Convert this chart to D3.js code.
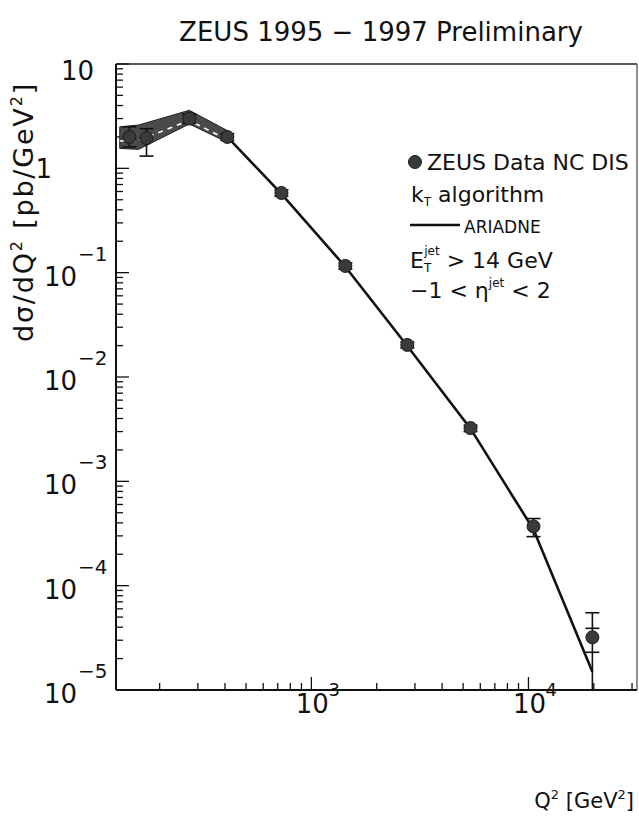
<!DOCTYPE html>
<html>
<head>
<meta charset="utf-8">
<script src="https://cdn.jsdelivr.net/npm/d3@7"></script>
<style>
  body { margin: 0; background: #fff; }
  text { font-family: "DejaVu Sans", sans-serif; fill: #111; }
</style>
</head>
<body>
<svg id="chart" width="639" height="821"></svg>
<script>
// Q^2 bin centres [GeV^2] and measured dσ/dQ^2 [pb/GeV^2]
const q2        = [145, 174, 274, 410, 728, 1434, 2767, 5410, 10550, 19700];
const sigma     = [2.0, 1.95, 3.0, 2.0, 0.58, 0.116, 0.0203, 0.00324, 3.7e-4, 3.2e-5];
const errLow    = [1.6, 1.31, 2.7, 1.85, 0.54, 0.108, 0.019, 0.0030, 2.95e-4, 4e-6];
const errHigh   = [2.5, 2.4, 3.3, 2.15, 0.62, 0.124, 0.0216, 0.00345, 4.4e-4, 5.5e-5];
const statLow   = [null, null, null, null, null, null, null, null, null, 2.3e-5];
const statHigh  = [null, null, null, null, null, null, null, null, null, 3.9e-5];

// ARIADNE prediction at the same Q^2 values
const ariadne   = [1.9, 1.95, 3.1, 2.0, 0.57, 0.114, 0.0198, 0.0032, 3.45e-4, 1.5e-5];

// energy-scale uncertainty band at low Q^2
const bandQ2    = [131, 160, 274, 410];
const bandLow   = [1.55, 1.52, 2.66, 1.78];
const bandHigh  = [2.5, 2.6, 3.6, 2.3];

// axis decades
const yTickExp  = [1, 0, -1, -2, -3, -4, -5];
const xTickExp  = [3, 4];

const svg = d3.select("#chart");

const x = d3.scaleLog().domain([Math.pow(10, 2.1), Math.pow(10, 4.5)]).range([116, 637]);
const y = d3.scaleLog().domain([1e-5, 10]).range([690, 64]);

// title
svg.append("text")
  .attr("x", 381).attr("y", 41)
  .attr("text-anchor", "middle")
  .attr("font-size", 26)
  .text("ZEUS 1995 \u2212 1997 Preliminary");

// frame
const x0 = x.range()[0], x1 = x.range()[1], y0 = y.range()[0], y1 = y.range()[1];
svg.append("line").attr("x1", x0).attr("x2", x0).attr("y1", y1).attr("y2", y0)
  .attr("stroke", "#111").attr("stroke-width", 2);
svg.append("line").attr("x1", x0).attr("x2", x1).attr("y1", y0).attr("y2", y0)
  .attr("stroke", "#111").attr("stroke-width", 2);
svg.append("line").attr("x1", x0).attr("x2", x1).attr("y1", y1).attr("y2", y1)
  .attr("stroke", "#222").attr("stroke-width", 1.3);
svg.append("line").attr("x1", x1).attr("x2", x1).attr("y1", y1).attr("y2", y0)
  .attr("stroke", "#444").attr("stroke-width", 1.2);

// y ticks (inside, major + minor)
const yTicks = [];
for (let e = -5; e <= 0; e++) {
  for (let m = 1; m <= 9; m++) yTicks.push({ v: m * Math.pow(10, e), major: m === 1 });
}
yTicks.push({ v: 10, major: true });
svg.append("g").selectAll("line").data(yTicks).join("line")
  .attr("x1", x0).attr("x2", d => x0 + (d.major ? 13 : 7))
  .attr("y1", d => y(d.v)).attr("y2", d => y(d.v))
  .attr("stroke", "#111").attr("stroke-width", 1.3);

// x ticks (inside)
const xTicks = [];
for (let e = 2; e <= 4; e++) {
  for (let m = 1; m <= 9; m++) {
    const v = m * Math.pow(10, e);
    if (v >= x.domain()[0] && v <= x.domain()[1]) xTicks.push({ v, major: m === 1 });
  }
}
svg.append("g").selectAll("line").data(xTicks).join("line")
  .attr("x1", d => x(d.v)).attr("x2", d => x(d.v))
  .attr("y1", y0).attr("y2", d => y0 - (d.major ? 13 : 7))
  .attr("stroke", "#111").attr("stroke-width", 1.3);

// y tick labels
const yLab = svg.append("g");
yTickExp.forEach(e => {
  const ty = y(Math.pow(10, e));
  if (e === 1) {
    yLab.append("text").attr("x", 94).attr("y", ty + 16).attr("text-anchor", "end")
      .attr("font-size", 26).text("10");
  } else if (e === 0) {
    yLab.append("text").attr("x", 52).attr("y", ty + 10).attr("text-anchor", "end")
      .attr("font-size", 26).text("1");
  } else {
    yLab.append("text").attr("x", 77).attr("y", ty + 13).attr("text-anchor", "end")
      .attr("font-size", 26).text("10");
    yLab.append("text").attr("x", 78).attr("y", ty - 12).attr("text-anchor", "start")
      .attr("font-size", 20).text("\u2212" + Math.abs(e));
  }
});

// x tick labels
xTickExp.forEach(e => {
  const tx = x(Math.pow(10, e));
  svg.append("text").attr("x", tx + 1).attr("y", 713).attr("text-anchor", "middle")
    .attr("font-size", 26).text("10");
  svg.append("text").attr("x", tx + 17).attr("y", 696).attr("text-anchor", "start")
    .attr("font-size", 18).text(String(e));
});

// axis titles
const yt = svg.append("text")
  .attr("transform", "translate(33,212) rotate(-90)")
  .attr("text-anchor", "middle").attr("font-size", 27).attr("letter-spacing", 1.8);
yt.append("tspan").text("d\u03c3/dQ");
yt.append("tspan").attr("font-size", 16).attr("dy", -11).text("2");
yt.append("tspan").attr("dy", 11).text(" [pb/GeV");
yt.append("tspan").attr("font-size", 16).attr("dy", -11).text("2");
yt.append("tspan").attr("dy", 11).text("]");

const xt = svg.append("text").attr("x", 634).attr("y", 808)
  .attr("text-anchor", "end").attr("font-size", 21);
xt.append("tspan").text("Q");
xt.append("tspan").attr("font-size", 13).attr("dy", -9).text("2");
xt.append("tspan").attr("dy", 9).text(" [GeV");
xt.append("tspan").attr("font-size", 13).attr("dy", -9).text("2");
xt.append("tspan").attr("dy", 9).text("]");

// plot contents, clipped to the frame
svg.append("clipPath").attr("id", "plot-clip").append("rect")
  .attr("x", x0).attr("y", y1).attr("width", x1 - x0).attr("height", y0 - y1);
const plot = svg.append("g").attr("clip-path", "url(#plot-clip)");

// uncertainty band
const bandData = bandQ2.map((q, i) => ({ q, lo: bandLow[i], hi: bandHigh[i] }));
plot.append("path").datum(bandData)
  .attr("d", d3.area().x(d => x(d.q)).y0(d => y(d.lo)).y1(d => y(d.hi)))
  .attr("fill", "#4a4a4a").attr("stroke", "#222").attr("stroke-width", 1);
plot.append("path").datum(bandData)
  .attr("d", d3.line().x(d => x(d.q)).y(d => y(Math.sqrt(d.lo * d.hi) * 0.93)))
  .attr("fill", "none").attr("stroke", "#fff").attr("stroke-width", 1.6)
  .attr("stroke-dasharray", "5,5");

// ARIADNE curve
const mc = q2.map((q, i) => ({ q, v: ariadne[i] }));
plot.append("path").datum(mc.slice(3))
  .attr("d", d3.line().x(d => x(d.q)).y(d => y(d.v)))
  .attr("fill", "none").attr("stroke", "#111").attr("stroke-width", 2.6);

// data points with error bars
const pts = q2.map((q, i) => ({
  q, v: sigma[i], lo: errLow[i], hi: errHigh[i], slo: statLow[i], shi: statHigh[i]
}));
const eb = plot.append("g").attr("stroke", "#111").attr("stroke-width", 1.6);
pts.forEach(d => {
  const px = x(d.q);
  eb.append("line").attr("x1", px).attr("x2", px).attr("y1", y(d.lo)).attr("y2", y(d.hi));
  [d.lo, d.hi, d.slo, d.shi].forEach(v => {
    if (v == null) return;
    eb.append("line").attr("x1", px - 7).attr("x2", px + 7).attr("y1", y(v)).attr("y2", y(v));
  });
});
plot.append("g").selectAll("circle").data(pts).join("circle")
  .attr("cx", d => x(d.q)).attr("cy", d => y(d.v)).attr("r", 6.5)
  .attr("fill", "#3a3a3a").attr("stroke", "#1a1a1a").attr("stroke-width", 1);

// legend
const lg = svg.append("g");
lg.append("circle").attr("cx", 415).attr("cy", 162).attr("r", 6.5)
  .attr("fill", "#3a3a3a").attr("stroke", "#1a1a1a");
lg.append("text").attr("x", 427).attr("y", 170).attr("font-size", 22).text("ZEUS Data NC DIS");
const kt = lg.append("text").attr("x", 411).attr("y", 202).attr("font-size", 22);
kt.append("tspan").text("k");
kt.append("tspan").attr("font-size", 12).attr("dy", 4).text("T");
kt.append("tspan").attr("dy", -4).text(" algorithm");
lg.append("line").attr("x1", 410).attr("x2", 460).attr("y1", 225).attr("y2", 225)
  .attr("stroke", "#111").attr("stroke-width", 2.4);
lg.append("text").attr("x", 464).attr("y", 233).attr("font-size", 17).text("ARIADNE");
const et = lg.append("text").attr("x", 410).attr("y", 268).attr("font-size", 22);
et.append("tspan").text("E");
et.append("tspan").attr("font-size", 12).attr("dy", 4).text("T");
et.append("tspan").attr("font-size", 12).attr("dx", -7).attr("dy", -17).text("jet");
et.append("tspan").attr("dy", 13).text(" > 14 GeV");
const eta = lg.append("text").attr("x", 410).attr("y", 298).attr("font-size", 22);
eta.append("tspan").text("\u22121 < \u03b7");
eta.append("tspan").attr("font-size", 12).attr("dy", -11).text("jet");
eta.append("tspan").attr("dy", 11).text(" < 2");
</script>
</body>
</html>
